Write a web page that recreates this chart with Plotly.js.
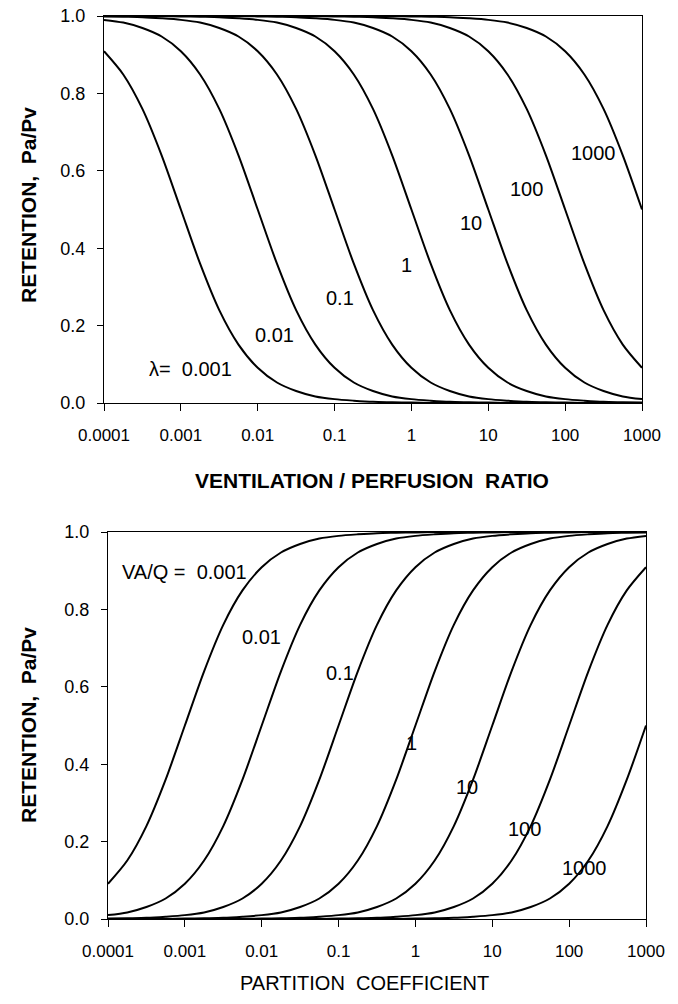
<!DOCTYPE html>
<html>
<head>
<meta charset="utf-8">
<script src="https://cdn.plot.ly/plotly-3.0.1.min.js"></script>
<style>html,body{margin:0;padding:0;background:#fff;}#chart{width:678px;height:1004px;}</style>
</head>
<body>
<div id="chart"></div>
<script>
// x positions (log-spaced, quarter decades) for both panels
const xGrid = [0.0001,0.000178,0.000316,0.000562,0.001,0.00178,0.00316,0.00562,0.01,0.0178,0.0316,0.0562,0.1,0.178,0.316,0.562,1,1.78,3.16,5.62,10,17.8,31.6,56.2,100,178,316,562,1000];

// Top panel: retention vs ventilation/perfusion ratio, one curve per partition coefficient
const topLabels = ["λ=\u00a0 0.001","0.01","0.1","1","10","100","1000"];
const top_0001 = [0.909,0.849,0.760,0.640,0.500,0.360,0.240,0.151,0.091,0.053,0.031,0.017,0.010,0.006,0.003,0.002,0.001,0,0,0,0,0,0,0,0,0,0,0,0];
const top_001  = [0.990,0.983,0.969,0.947,0.909,0.849,0.760,0.640,0.500,0.360,0.240,0.151,0.091,0.053,0.031,0.017,0.010,0.006,0.003,0.002,0.001,0,0,0,0,0,0,0,0];
const top_01   = [0.999,0.998,0.997,0.994,0.990,0.983,0.969,0.947,0.909,0.849,0.760,0.640,0.500,0.360,0.240,0.151,0.091,0.053,0.031,0.017,0.010,0.006,0.003,0.002,0.001,0,0,0,0];
const top_1    = [1,1,1,1,0.999,0.998,0.997,0.994,0.990,0.983,0.969,0.947,0.909,0.849,0.760,0.640,0.500,0.360,0.240,0.151,0.091,0.053,0.031,0.017,0.010,0.006,0.003,0.002,0.001];
const top_10   = [1,1,1,1,1,1,1,1,0.999,0.998,0.997,0.994,0.990,0.983,0.969,0.947,0.909,0.849,0.760,0.640,0.500,0.360,0.240,0.151,0.091,0.053,0.031,0.017,0.010];
const top_100  = [1,1,1,1,1,1,1,1,1,1,1,1,0.999,0.998,0.997,0.994,0.990,0.983,0.969,0.947,0.909,0.849,0.760,0.640,0.500,0.360,0.240,0.151,0.091];
const top_1000 = [1,1,1,1,1,1,1,1,1,1,1,1,1,1,1,1,0.999,0.998,0.997,0.994,0.990,0.983,0.969,0.947,0.909,0.849,0.760,0.640,0.500];

// Bottom panel: retention vs partition coefficient, one curve per VA/Q
const botLabels = ["VA/Q =\u00a0 0.001","0.01","0.1","1","10","100","1000"];
const bot_0001 = [0.091,0.151,0.240,0.360,0.500,0.640,0.760,0.849,0.909,0.947,0.969,0.983,0.990,0.994,0.997,0.998,0.999,1,1,1,1,1,1,1,1,1,1,1,1];
const bot_001  = [0.010,0.017,0.031,0.053,0.091,0.151,0.240,0.360,0.500,0.640,0.760,0.849,0.909,0.947,0.969,0.983,0.990,0.994,0.997,0.998,0.999,1,1,1,1,1,1,1,1];
const bot_01   = [0.001,0.002,0.003,0.006,0.010,0.017,0.031,0.053,0.091,0.151,0.240,0.360,0.500,0.640,0.760,0.849,0.909,0.947,0.969,0.983,0.990,0.994,0.997,0.998,0.999,1,1,1,1];
const bot_1    = [0,0,0,0,0.001,0.002,0.003,0.006,0.010,0.017,0.031,0.053,0.091,0.151,0.240,0.360,0.500,0.640,0.760,0.849,0.909,0.947,0.969,0.983,0.990,0.994,0.997,0.998,0.999];
const bot_10   = [0,0,0,0,0,0,0,0,0.001,0.002,0.003,0.006,0.010,0.017,0.031,0.053,0.091,0.151,0.240,0.360,0.500,0.640,0.760,0.849,0.909,0.947,0.969,0.983,0.990];
const bot_100  = [0,0,0,0,0,0,0,0,0,0,0,0,0.001,0.002,0.003,0.006,0.010,0.017,0.031,0.053,0.091,0.151,0.240,0.360,0.500,0.640,0.760,0.849,0.909];
const bot_1000 = [0,0,0,0,0,0,0,0,0,0,0,0,0,0,0,0,0.001,0.002,0.003,0.006,0.010,0.017,0.031,0.053,0.091,0.151,0.240,0.360,0.500];

const xTickVals = [0.0001,0.001,0.01,0.1,1,10,100,1000];
const xTickText = ["0.0001","0.001","0.01","0.1","1","10","100","1000"];
const yTickVals = [0,0.2,0.4,0.6,0.8,1.0];

const FONT = '"Liberation Sans", Arial, sans-serif';
const topSeries = [top_0001, top_001, top_01, top_1, top_10, top_100, top_1000];
const botSeries = [bot_0001, bot_001, bot_01, bot_1, bot_10, bot_100, bot_1000];

const traces = [];
topSeries.forEach(ys => traces.push({x: xGrid, y: ys, xaxis: 'x', yaxis: 'y', mode: 'lines',
  line: {color: '#000', width: 2, shape: 'spline', smoothing: 0.8}, hoverinfo: 'skip', showlegend: false}));
botSeries.forEach(ys => traces.push({x: xGrid, y: ys, xaxis: 'x2', yaxis: 'y2', mode: 'lines',
  line: {color: '#000', width: 2, shape: 'spline', smoothing: 0.8}, hoverinfo: 'skip', showlegend: false}));

// label placement (log10 x, y) for each curve label
const topPos = [[-2.87,0.088],[-1.78,0.176],[-0.93,0.271],[-0.06,0.357],[0.77,0.465],[1.5,0.553],[2.37,0.646]];
const botPos = [[-3.0,0.897],[-2.0,0.729],[-0.98,0.636],[-0.05,0.455],[0.67,0.341],[1.42,0.233],[2.2,0.132]];

const annotations = [];
topLabels.forEach((t, i) => annotations.push({xref: 'x', yref: 'y', x: topPos[i][0], y: topPos[i][1], text: t,
  showarrow: false, font: {family: FONT, size: 20, color: '#000'}, xanchor: 'center', yanchor: 'middle'}));
botLabels.forEach((t, i) => annotations.push({xref: 'x2', yref: 'y2', x: botPos[i][0], y: botPos[i][1], text: t,
  showarrow: false, font: {family: FONT, size: 20, color: '#000'}, xanchor: 'center', yanchor: 'middle'}));

// axis titles
annotations.push({xref: 'paper', yref: 'paper', x: 372/678, y: 1 - 480/1004, text: 'VENTILATION / PERFUSION\u00a0 RATIO',
  showarrow: false, font: {family: FONT, size: 21, color: '#000', weight: 'bold'}, xanchor: 'center', yanchor: 'middle'});
annotations.push({xref: 'paper', yref: 'paper', x: 364/678, y: 1 - 983/1004, text: 'PARTITION\u00a0 COEFFICIENT',
  showarrow: false, font: {family: FONT, size: 20, color: '#000'}, xanchor: 'center', yanchor: 'middle'});
annotations.push({xref: 'paper', yref: 'paper', x: 28/678, y: 1 - 205/1004, text: 'RETENTION,\u00a0 Pa/Pv', textangle: -90,
  showarrow: false, font: {family: FONT, size: 21, color: '#000', weight: 'bold'}, xanchor: 'center', yanchor: 'middle'});
annotations.push({xref: 'paper', yref: 'paper', x: 28/678, y: 1 - 725/1004, text: 'RETENTION,\u00a0 Pa/Pv', textangle: -90,
  showarrow: false, font: {family: FONT, size: 21, color: '#000', weight: 'bold'}, xanchor: 'center', yanchor: 'middle'});

function xAxis(domain) {
  return {type: 'log', domain: domain, range: [-4, 3], tickvals: xTickVals, ticktext: xTickText,
    ticks: 'outside', ticklen: 7, tickcolor: '#000', tickwidth: 1, showline: true, mirror: true,
    linecolor: '#000', linewidth: 1, showgrid: false, zeroline: false, ticklabelstandoff: 10,
    tickfont: {family: FONT, size: 17, color: '#000'}};
}
function yAxis(domain, anchor) {
  return {domain: domain, range: [0, 1], tickvals: yTickVals, tickformat: '.1f', anchor: anchor,
    ticks: 'outside', ticklen: 6, tickcolor: '#000', tickwidth: 1, showline: true, mirror: true,
    linecolor: '#000', linewidth: 1, showgrid: false, zeroline: false, ticklabelstandoff: 8,
    tickfont: {family: FONT, size: 18, color: '#000'}};
}

const layout = {
  width: 678, height: 1004,
  margin: {l: 0, r: 0, t: 0, b: 0},
  paper_bgcolor: '#fff', plot_bgcolor: '#fff',
  showlegend: false,
  xaxis: Object.assign(xAxis([104/678, 642/678]), {anchor: 'y'}),
  yaxis: yAxis([1 - 403/1004, 1 - 16/1004], 'x'),
  xaxis2: Object.assign(xAxis([108/678, 646/678]), {anchor: 'y2'}),
  yaxis2: yAxis([1 - 919/1004, 1 - 532/1004], 'x2'),
  annotations: annotations
};

Plotly.newPlot('chart', traces, layout, {displayModeBar: false, staticPlot: true});
</script>
</body>
</html>
